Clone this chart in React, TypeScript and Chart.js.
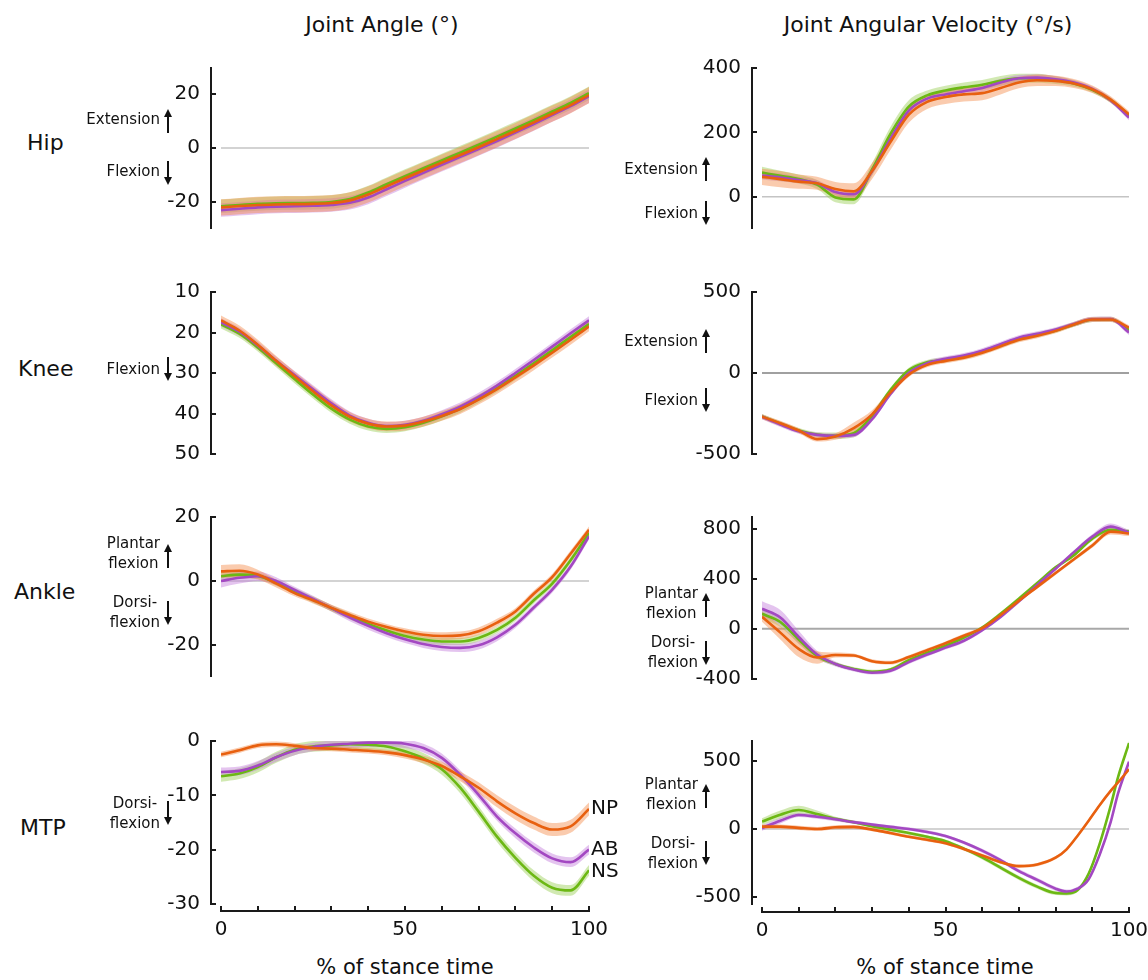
import React, { useEffect, useRef } from "react";
import { Chart, registerables } from "chart.js";

Chart.register(...registerables);

const FONT = "'DejaVu Sans', Verdana, sans-serif";

// ---------- shared x grids (% of stance time) ----------
const X = [0, 5, 10, 15, 20, 25, 30, 35, 40, 45, 50, 55, 60, 65, 70, 75, 80, 85, 90, 95, 100];
const X_MTP_VEL = [0, 5, 10, 15, 20, 25, 30, 35, 40, 45, 50, 55, 60, 65, 70, 75, 80, 83, 86, 89, 92, 95, 97, 100];
const X_TICKS = [0, 50, 100];

// ---------- Hip angle ----------
const hipAngleNP = [-22, -21.5, -21.1, -20.9, -20.8, -20.7, -20.4, -19.4, -17.2, -14.2, -11.2, -8.3, -5.4, -2.6, 0.3, 3.3, 6.3, 9.5, 12.7, 15.9, 19.6];
const hipAngleAB = [-23, -22.5, -22, -21.7, -21.6, -21.4, -21.1, -20.3, -18.3, -15.3, -12.2, -9.2, -6.2, -3.3, -0.4, 2.6, 5.7, 8.9, 12.2, 15.5, 19.2];
const hipAngleNS = [-21.6, -21.1, -20.7, -20.5, -20.4, -20.3, -20.0, -18.9, -16.5, -13.4, -10.4, -7.5, -4.6, -1.7, 1.2, 4.2, 7.2, 10.3, 13.5, 16.7, 20.3];
const hipAngleSdNP = [3, 3, 3, 3, 3, 3, 3, 3, 3, 3, 3, 3, 3, 3, 3, 3, 3, 3, 3, 3, 3];
const hipAngleSdAB = [2.5, 2.5, 2.5, 2.5, 2.5, 2.5, 2.5, 2.5, 2.5, 2.5, 2.5, 2.5, 2.5, 2.5, 2.5, 2.5, 2.5, 2.5, 2.5, 2.5, 2.5];
const hipAngleSdNS = [2.5, 2.5, 2.5, 2.5, 2.5, 2.5, 2.5, 2.5, 2.5, 2.5, 2.5, 2.5, 2.5, 2.5, 2.5, 2.5, 2.5, 2.5, 2.5, 2.5, 2.5];
const hipAngleTicks = [-20, 0, 20];

// ---------- Hip angular velocity ----------
const hipVelNP = [62, 55, 47, 42, 24, 17, 80, 170, 255, 295, 310, 318, 322, 338, 355, 362, 360, 352, 334, 302, 256];
const hipVelAB = [66, 60, 52, 42, 15, 8, 80, 180, 268, 305, 318, 328, 338, 355, 368, 370, 365, 355, 335, 300, 246];
const hipVelNS = [75, 65, 55, 38, -2, -8, 85, 195, 280, 315, 330, 340, 348, 360, 368, 368, 362, 352, 332, 300, 252];
const hipVelSdNP = [25, 25, 22, 20, 22, 25, 25, 25, 25, 22, 22, 22, 22, 20, 18, 18, 16, 14, 12, 10, 10];
const hipVelSdAB = [12, 12, 10, 10, 10, 10, 12, 14, 14, 12, 12, 12, 12, 12, 10, 10, 10, 8, 8, 8, 8];
const hipVelSdNS = [18, 16, 14, 14, 15, 15, 20, 22, 20, 15, 15, 15, 15, 15, 14, 14, 12, 10, 8, 8, 8];
const hipVelTicks = [0, 200, 400];

// ---------- Knee angle ----------
const kneeAngleNP = [17, 19.5, 23, 27, 30.8, 34.5, 38, 40.8, 42.5, 43.2, 43, 42, 40.6, 38.9, 36.6, 34, 31.1, 28.1, 25, 21.8, 18.5];
const kneeAngleAB = [17.5, 19.8, 23.2, 27, 30.5, 34, 37.5, 40.5, 42.3, 43.1, 42.8, 41.8, 40.2, 38.3, 35.9, 33.1, 30, 26.8, 23.5, 20.2, 17];
const kneeAngleNS = [18, 20.3, 23.7, 27.6, 31.5, 35.3, 38.8, 41.5, 43.2, 43.8, 43.4, 42.3, 40.7, 38.8, 36.4, 33.7, 30.7, 27.6, 24.4, 21.1, 17.9];
const kneeAngleSdNP = [1.2, 1.2, 1.2, 1.2, 1.2, 1.2, 1.2, 1.2, 1.2, 1.2, 1.2, 1.2, 1.2, 1.2, 1.2, 1.2, 1.2, 1.2, 1.2, 1.2, 1.2];
const kneeAngleSdAB = [1, 1, 1, 1, 1, 1, 1, 1, 1, 1, 1, 1, 1, 1, 1, 1, 1, 1, 1, 1, 1];
const kneeAngleSdNS = [1, 1, 1, 1, 1, 1, 1, 1, 1, 1, 1, 1, 1, 1, 1, 1, 1, 1, 1, 1, 1];
const kneeAngleTicks = [10, 20, 30, 40, 50];

// ---------- Knee angular velocity ----------
const kneeVelNP = [-270, -310, -355, -408, -392, -340, -255, -120, -10, 50, 75, 95, 125, 165, 205, 230, 260, 300, 330, 330, 280];
const kneeVelAB = [-270, -318, -360, -382, -388, -382, -285, -130, 0, 60, 88, 108, 138, 178, 218, 242, 268, 302, 332, 333, 250];
const kneeVelNS = [-268, -313, -355, -380, -388, -372, -265, -105, 18, 66, 82, 100, 130, 170, 210, 236, 263, 300, 330, 332, 265];
const kneeVelSdNP = [15, 15, 15, 15, 20, 35, 25, 20, 15, 15, 15, 15, 15, 15, 15, 15, 15, 15, 15, 15, 15];
const kneeVelSdAB = [15, 15, 15, 15, 15, 15, 15, 15, 15, 15, 15, 15, 15, 15, 15, 15, 15, 15, 15, 15, 15];
const kneeVelSdNS = [15, 15, 15, 15, 20, 25, 20, 15, 15, 15, 15, 15, 15, 15, 15, 15, 15, 15, 15, 15, 15];
const kneeVelTicks = [-500, 0, 500];

// ---------- Ankle angle ----------
const ankleAngleNP = [3, 3.2, 2, -0.8, -3.8, -6, -8.4, -10.6, -12.7, -14.4, -15.8, -16.8, -17.2, -17, -15.7, -13, -9.5, -4, 1.2, 8.5, 16];
const ankleAngleAB = [0, 1, 1.5, 0, -2.8, -5.6, -8.5, -11.4, -14, -16.3, -18.2, -19.7, -20.6, -20.9, -20.1, -17.6, -13.7, -8.3, -2.7, 4.5, 14];
const ankleAngleNS = [1.5, 2, 1.6, -0.5, -3.2, -5.8, -8.5, -11, -13.4, -15.5, -17.2, -18.3, -18.9, -18.9, -17.8, -15.3, -11.5, -6, -0.8, 6.5, 15];
const ankleAngleSdNP = [2, 2, 1.5, 1.2, 1, 1, 1, 1, 1, 1, 1, 1, 1.2, 1.2, 1.2, 1.2, 1, 1, 1, 1, 1];
const ankleAngleSdAB = [2, 1.8, 1.5, 1.2, 1, 1, 1, 1.2, 1.2, 1.2, 1.2, 1.2, 1.3, 1.3, 1.3, 1.2, 1, 1, 1, 1, 1];
const ankleAngleSdNS = [1.2, 1.2, 1, 1, 1, 1, 1, 1, 1, 1, 1, 1, 1.1, 1.1, 1.1, 1, 1, 1, 1, 1, 1];
const ankleAngleTicks = [-20, 0, 20];

// ---------- Ankle angular velocity ----------
const ankleVelNP = [96, -30, -160, -228, -208, -212, -258, -270, -225, -170, -115, -55, 5, 110, 225, 335, 445, 555, 665, 775, 760];
const ankleVelAB = [160, 90, -65, -205, -280, -325, -350, -335, -265, -205, -150, -95, -10, 95, 220, 350, 480, 612, 735, 815, 768];
const ankleVelNS = [120, 55, -85, -215, -280, -320, -342, -325, -250, -190, -135, -70, 10, 120, 240, 365, 490, 588, 720, 790, 776];
const ankleVelSdNP = [40, 55, 65, 50, 20, 15, 15, 15, 15, 15, 15, 15, 15, 15, 15, 15, 15, 15, 18, 22, 20];
const ankleVelSdAB = [60, 60, 50, 30, 20, 15, 15, 15, 15, 15, 15, 15, 15, 15, 15, 15, 15, 15, 20, 25, 20];
const ankleVelSdNS = [40, 40, 35, 25, 15, 15, 15, 15, 15, 15, 15, 15, 15, 15, 15, 15, 15, 15, 18, 20, 18];
const ankleVelTicks = [-400, 0, 400, 800];

// ---------- MTP angle ----------
const mtpAngleNP = [-2.5, -1.7, -0.8, -0.6, -0.9, -1.3, -1.4, -1.6, -1.8, -2.1, -2.6, -3.4, -4.6, -6.5, -8.6, -11.1, -13.3, -15.1, -16.3, -15.7, -12.5];
const mtpAngleAB = [-5.7, -5.5, -4.5, -3, -1.8, -1.1, -0.7, -0.5, -0.3, -0.3, -0.5, -1.3, -3.1, -6.2, -9.9, -13.9, -17, -19.6, -21.6, -22.3, -20];
const mtpAngleNS = [-6.5, -6, -4.8, -3, -1.6, -1, -0.8, -0.6, -0.7, -1, -1.9, -3.2, -5.2, -8.6, -13, -17.6, -21.5, -24.8, -27, -27.5, -23.8];
const mtpAngleSdNP = [0.5, 0.5, 0.5, 0.5, 0.5, 0.5, 0.5, 0.5, 0.5, 0.5, 0.6, 0.7, 0.8, 0.9, 1, 1.1, 1.2, 1.2, 1.2, 1.2, 1.2];
const mtpAngleSdAB = [0.8, 0.8, 0.8, 0.8, 0.8, 0.8, 0.8, 0.8, 0.8, 0.8, 0.8, 0.8, 0.8, 0.8, 0.8, 0.8, 0.9, 0.9, 0.9, 0.9, 0.9];
const mtpAngleSdNS = [1, 1, 1, 1, 1, 1, 1, 1, 1, 1, 1, 1, 1, 1, 1, 1, 1, 1, 1, 1, 1];
const mtpAngleTicks = [-30, -20, -10, 0];

// ---------- MTP angular velocity ----------
const mtpVelNP = [17, 17, 8, 0, 12, 15, -5, -30, -57, -80, -105, -148, -195, -245, -274, -262, -212, -150, -50, 60, 175, 280, 342, 439];
const mtpVelAB = [7, 60, 103, 90, 72, 50, 32, 15, 0, -22, -52, -100, -160, -230, -310, -375, -440, -461, -440, -370, -190, 50, 260, 495];
const mtpVelNS = [54, 105, 140, 110, 75, 50, 20, -5, -30, -58, -90, -145, -210, -285, -360, -425, -472, -475, -450, -330, -110, 170, 380, 632];
const mtpVelSdNP = [15, 15, 15, 15, 15, 15, 12, 12, 12, 12, 12, 12, 12, 12, 12, 12, 12, 12, 12, 12, 12, 12, 12, 12];
const mtpVelSdAB = [20, 20, 15, 15, 15, 12, 12, 12, 12, 12, 12, 12, 15, 15, 15, 15, 15, 15, 15, 15, 15, 15, 15, 15];
const mtpVelSdNS = [25, 30, 30, 25, 15, 12, 12, 12, 12, 12, 12, 12, 15, 15, 15, 15, 15, 15, 15, 20, 20, 20, 15, 15];
const mtpVelTicks = [-500, 0, 500];

const COLORS: Record<string, { line: string; band: string }> = {
  NP: { line: "#E8600F", band: "rgba(243,140,75,0.45)" },
  AB: { line: "#A348C2", band: "rgba(196,125,220,0.45)" },
  NS: { line: "#6CB814", band: "rgba(152,206,84,0.45)" },
};

type PanelCfg = {
  x: number[];
  np: number[]; ab: number[]; ns: number[];
  npSd: number[]; abSd: number[]; nsSd: number[];
  min: number; max: number; ticks: number[]; reverse?: boolean;
  zero?: { color: string; width: number } | null;
  col: 0 | 1; top: number; bottom: number; xAxis?: boolean;
};

const COL_LEFT = [221, 762];
const COL_RIGHT = [589, 1129];
const YAXIS_W = 110;
const PAD_TB = 40;
const PAD_R = 40;
const XAXIS_H = 45;

const PANELS: PanelCfg[] = [
  { x: X, np: hipAngleNP, ab: hipAngleAB, ns: hipAngleNS, npSd: hipAngleSdNP, abSd: hipAngleSdAB, nsSd: hipAngleSdNS,
    min: -30, max: 30, ticks: hipAngleTicks, zero: { color: "#c4c4c4", width: 1.5 }, col: 0, top: 67, bottom: 229 },
  { x: X, np: hipVelNP, ab: hipVelAB, ns: hipVelNS, npSd: hipVelSdNP, abSd: hipVelSdAB, nsSd: hipVelSdNS,
    min: -100, max: 400, ticks: hipVelTicks, zero: { color: "#c4c4c4", width: 1.5 }, col: 1, top: 68, bottom: 229 },
  { x: X, np: kneeAngleNP, ab: kneeAngleAB, ns: kneeAngleNS, npSd: kneeAngleSdNP, abSd: kneeAngleSdAB, nsSd: kneeAngleSdNS,
    min: 10, max: 50, ticks: kneeAngleTicks, reverse: true, zero: null, col: 0, top: 292, bottom: 454 },
  { x: X, np: kneeVelNP, ab: kneeVelAB, ns: kneeVelNS, npSd: kneeVelSdNP, abSd: kneeVelSdAB, nsSd: kneeVelSdNS,
    min: -500, max: 500, ticks: kneeVelTicks, zero: { color: "#a0a0a0", width: 2 }, col: 1, top: 292, bottom: 454 },
  { x: X, np: ankleAngleNP, ab: ankleAngleAB, ns: ankleAngleNS, npSd: ankleAngleSdNP, abSd: ankleAngleSdAB, nsSd: ankleAngleSdNS,
    min: -30, max: 20, ticks: ankleAngleTicks, zero: { color: "#c4c4c4", width: 1.5 }, col: 0, top: 517, bottom: 677 },
  { x: X, np: ankleVelNP, ab: ankleVelAB, ns: ankleVelNS, npSd: ankleVelSdNP, abSd: ankleVelSdAB, nsSd: ankleVelSdNS,
    min: -400, max: 900, ticks: ankleVelTicks, zero: { color: "#a8a8a8", width: 2 }, col: 1, top: 516, bottom: 679 },
  { x: X, np: mtpAngleNP, ab: mtpAngleAB, ns: mtpAngleNS, npSd: mtpAngleSdNP, abSd: mtpAngleSdAB, nsSd: mtpAngleSdNS,
    min: -30, max: 0, ticks: mtpAngleTicks, zero: null, col: 0, top: 741, bottom: 904, xAxis: true },
  { x: X_MTP_VEL, np: mtpVelNP, ab: mtpVelAB, ns: mtpVelNS, npSd: mtpVelSdNP, abSd: mtpVelSdAB, nsSd: mtpVelSdNS,
    min: -560, max: 655, ticks: mtpVelTicks, zero: { color: "#c4c4c4", width: 1.5 }, col: 1, top: 740, bottom: 905, xAxis: true },
];

const decorPlugin = {
  id: "decor",
  beforeDatasetsDraw(chart: any, _args: any, opts: any) {
    if (!opts.zero) return;
    const { ctx, chartArea: a } = chart;
    const y = chart.scales.y;
    const py = y.getPixelForValue(0);
    ctx.save();
    ctx.strokeStyle = opts.zero.color;
    ctx.lineWidth = opts.zero.width;
    ctx.beginPath();
    ctx.moveTo(a.left, py);
    ctx.lineTo(a.right, py);
    ctx.stroke();
    ctx.restore();
  },
  afterDraw(chart: any, _args: any, opts: any) {
    const { ctx, chartArea: a } = chart;
    const y = chart.scales.y;
    const x = chart.scales.x;
    ctx.save();
    ctx.strokeStyle = "#1a1a1a";
    ctx.lineWidth = 2;
    const sx = a.left - 10;
    ctx.beginPath();
    ctx.moveTo(sx, a.top);
    ctx.lineTo(sx, a.bottom);
    for (const t of opts.ticks as number[]) {
      const py = Math.round(y.getPixelForValue(t));
      ctx.moveTo(sx - 1, py);
      ctx.lineTo(sx + 5, py);
    }
    ctx.stroke();
    if (opts.xAxis) {
      const sy = a.bottom + 7;
      ctx.beginPath();
      ctx.moveTo(a.left - 1, sy);
      ctx.lineTo(a.right + 1, sy);
      for (let v = 0; v <= 100; v += 10) {
        const px = Math.round(x.getPixelForValue(v));
        ctx.moveTo(px, sy);
        ctx.lineTo(px, sy - 5);
      }
      ctx.stroke();
    }
    ctx.restore();
  },
};

function buildDatasets(p: PanelCfg) {
  const series = [
    { key: "NP", mean: p.np, sd: p.npSd },
    { key: "AB", mean: p.ab, sd: p.abSd },
    { key: "NS", mean: p.ns, sd: p.nsSd },
  ];
  const ds: any[] = [];
  series.forEach((s, i) => {
    ds.push({
      data: p.x.map((xv, j) => ({ x: xv, y: s.mean[j] })),
      borderColor: COLORS[s.key].line,
      borderWidth: 2.6,
      pointRadius: 0,
      fill: false,
      cubicInterpolationMode: "monotone",
      order: i,
    });
  });
  series.forEach((s, i) => {
    ds.push({
      data: p.x.map((xv, j) => ({ x: xv, y: s.mean[j] + s.sd[j] })),
      borderColor: "rgba(0,0,0,0)",
      borderWidth: 0,
      pointRadius: 0,
      fill: false,
      cubicInterpolationMode: "monotone",
      order: 10 + 2 * i,
    });
    ds.push({
      data: p.x.map((xv, j) => ({ x: xv, y: s.mean[j] - s.sd[j] })),
      borderColor: "rgba(0,0,0,0)",
      borderWidth: 0,
      pointRadius: 0,
      fill: "-1",
      backgroundColor: COLORS[s.key].band,
      cubicInterpolationMode: "monotone",
      order: 11 + 2 * i,
    });
  });
  return ds;
}

function Panel({ p }: { p: PanelCfg }) {
  const ref = useRef<HTMLCanvasElement>(null);
  const left = COL_LEFT[p.col] - YAXIS_W;
  const top = p.top - PAD_TB;
  const width = COL_RIGHT[p.col] - COL_LEFT[p.col] + YAXIS_W + PAD_R;
  const height = p.bottom - p.top + PAD_TB + (p.xAxis ? XAXIS_H : PAD_TB);

  useEffect(() => {
    const chart = new Chart(ref.current as HTMLCanvasElement, {
      type: "line",
      data: { datasets: buildDatasets(p) },
      plugins: [decorPlugin as any],
      options: {
        animation: false,
        responsive: false,
        maintainAspectRatio: false,
        layout: { padding: { top: PAD_TB, right: PAD_R, left: 0, bottom: p.xAxis ? 0 : PAD_TB } },
        plugins: {
          legend: { display: false },
          tooltip: { enabled: false },
          decor: { zero: p.zero, ticks: p.ticks, xAxis: !!p.xAxis },
        } as any,
        scales: {
          x: {
            type: "linear",
            min: 0,
            max: 100,
            display: !!p.xAxis,
            grid: { display: false, drawTicks: false },
            border: { display: false },
            ticks: {
              font: { family: FONT, size: 20 },
              color: "#111",
              padding: 14,
              maxRotation: 0,
              autoSkip: false,
            },
            afterBuildTicks: (s: any) => {
              s.ticks = X_TICKS.map((v) => ({ value: v }));
            },
            afterFit: (s: any) => {
              if (p.xAxis) s.height = XAXIS_H;
            },
          },
          y: {
            type: "linear",
            min: p.min,
            max: p.max,
            reverse: !!p.reverse,
            grid: { display: false, drawTicks: false },
            border: { display: false },
            ticks: {
              font: { family: FONT, size: 20 },
              color: "#111",
              padding: 21,
              autoSkip: false,
            },
            afterBuildTicks: (s: any) => {
              s.ticks = p.ticks.map((v) => ({ value: v }));
            },
            afterFit: (s: any) => {
              s.width = YAXIS_W;
            },
          },
        } as any,
      },
    });
    return () => chart.destroy();
  }, []);

  return (
    <canvas
      ref={ref}
      width={width}
      height={height}
      style={{ position: "absolute", left, top, width, height }}
    />
  );
}

function Arrow({ x, y, up }: { x: number; y: number; up: boolean }) {
  const h = 24;
  return (
    <svg
      width={12}
      height={h}
      style={{ position: "absolute", left: x - 6, top: y - h / 2 }}
    >
      {up ? (
        <>
          <line x1={6} y1={h} x2={6} y2={6} stroke="#111" strokeWidth={2} />
          <polygon points="2,8 6,0 10,8" fill="#111" />
        </>
      ) : (
        <>
          <line x1={6} y1={0} x2={6} y2={h - 6} stroke="#111" strokeWidth={2} />
          <polygon points={`2,${h - 8} 6,${h} 10,${h - 8}`} fill="#111" />
        </>
      )}
    </svg>
  );
}

function Note({ lines, right, y, arrowX, up, arrowDy = 0 }: { lines: string[]; right: number; y: number; arrowX: number; up: boolean; arrowDy?: number }) {
  const lh = 20;
  return (
    <>
      <div
        style={{
          position: "absolute",
          right: 1148 - right,
          top: y - (lines.length * lh) / 2,
          fontFamily: FONT,
          fontSize: 15,
          lineHeight: `${lh}px`,
          textAlign: lines.length > 1 ? "center" : "right",
          color: "#111",
          whiteSpace: "nowrap",
        }}
      >
        {lines.map((l, i) => (
          <div key={i}>{l}</div>
        ))}
      </div>
      <Arrow x={arrowX} y={y + arrowDy} up={up} />
    </>
  );
}

function Label({ text, x, y, size, align = "left" }: { text: string; x: number; y: number; size: number; align?: "left" | "center" }) {
  return (
    <div
      style={{
        position: "absolute",
        left: x,
        top: y,
        transform: align === "center" ? "translate(-50%, -50%)" : "translate(0, -50%)",
        fontFamily: FONT,
        fontSize: size,
        lineHeight: 1.2,
        color: "#111",
        whiteSpace: "nowrap",
      }}
    >
      {text}
    </div>
  );
}

export default function App() {
  return (
    <div
      style={{
        position: "absolute",
        left: 0,
        top: 0,
        width: 1148,
        height: 980,
        overflow: "hidden",
        background: "#fff",
      }}
    >
      <Label text="Joint Angle (°)" x={382} y={25} size={22} align="center" />
      <Label text="Joint Angular Velocity (°/s)" x={928} y={25} size={22} align="center" />

      <Label text="Hip" x={27} y={143} size={22} />
      <Label text="Knee" x={18} y={369} size={22} />
      <Label text="Ankle" x={14} y={592} size={22} />
      <Label text="MTP" x={20} y={828} size={22} />

      {PANELS.map((p, i) => (
        <Panel key={i} p={p} />
      ))}

      {/* left column direction notes */}
      <Note lines={["Extension"]} right={160} y={119} arrowX={168} up arrowDy={2} />
      <Note lines={["Flexion"]} right={160} y={171} arrowX={168} up={false} arrowDy={2} />
      <Note lines={["Flexion"]} right={160} y={369} arrowX={168} up={false} />
      <Note lines={["Plantar", "flexion"]} right={160} y={553} arrowX={168} up arrowDy={3} />
      <Note lines={["Dorsi-", "flexion"]} right={160} y={612} arrowX={168} up={false} arrowDy={1} />
      <Note lines={["Dorsi-", "flexion"]} right={160} y={813} arrowX={168} up={false} />

      {/* right column direction notes */}
      <Note lines={["Extension"]} right={698} y={169} arrowX={706} up />
      <Note lines={["Flexion"]} right={698} y={213} arrowX={706} up={false} />
      <Note lines={["Extension"]} right={698} y={341} arrowX={706} up />
      <Note lines={["Flexion"]} right={698} y={400} arrowX={706} up={false} />
      <Note lines={["Plantar", "flexion"]} right={698} y={603} arrowX={706} up arrowDy={2} />
      <Note lines={["Dorsi-", "flexion"]} right={698} y={652} arrowX={706} up={false} arrowDy={1} />
      <Note lines={["Plantar", "flexion"]} right={698} y={794} arrowX={706} up arrowDy={2} />
      <Note lines={["Dorsi-", "flexion"]} right={698} y={853} arrowX={706} up={false} />

      {/* series labels */}
      <Label text="NP" x={591} y={807} size={20} />
      <Label text="AB" x={591} y={848} size={20} />
      <Label text="NS" x={591} y={870} size={20} />

      <Label text="% of stance time" x={405} y={968} size={21} align="center" />
      <Label text="% of stance time" x={945} y={968} size={21} align="center" />
    </div>
  );
}
